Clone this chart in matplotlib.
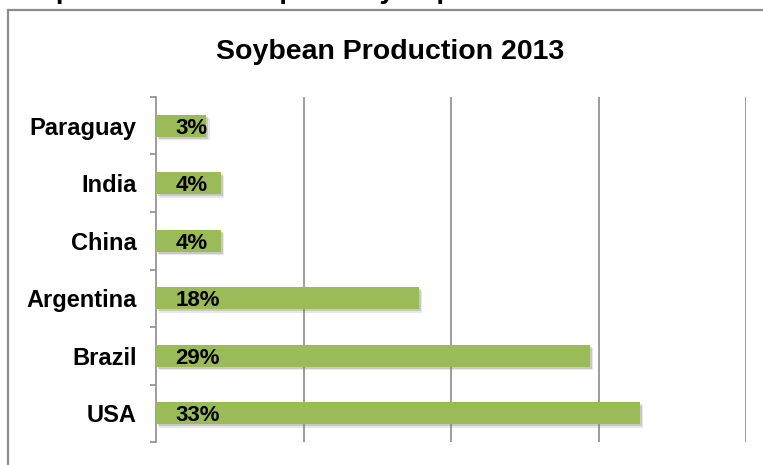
import matplotlib
matplotlib.use("Agg")
import matplotlib.pyplot as plt
import matplotlib.patheffects as pe
from matplotlib.patches import Rectangle
from matplotlib.ticker import FixedLocator

plt.rcParams['font.family'] = ['Liberation Sans', 'DejaVu Sans']

# data (bottom to top)
countries = ["USA", "Brazil", "Argentina", "China", "India", "Paraguay"]
shares = [32.8, 29.4, 17.8, 4.4, 4.4, 3.4]
share_labels = ["33%", "29%", "18%", "4%", "4%", "3%"]

bar_color = "#9BBB59"
line_gray = "#8C8C8C"

fig = plt.figure(figsize=(7.63, 4.65), dpi=100)

# cut-off heading above the chart frame (only descenders show)
fig.text(24 / 763, 1 + 2 / 465, "Top Countries Compared by Export",
         fontsize=20, fontweight="bold", ha="left", va="baseline")

# chart frame (only top and left edges visible)
fig.add_artist(Rectangle((8 / 763, -0.1), 1.2, 1 - 10 / 465 + 0.1,
                         transform=fig.transFigure, fill=False,
                         edgecolor=line_gray, linewidth=1.6))

fig.text(390 / 763, 1 - 59 / 465, "Soybean Production 2013",
         fontsize=20.5, fontweight="bold", ha="center", va="baseline")

ax = fig.add_axes([156 / 763, 1 - 442 / 465, (746 - 156) / 763, (442 - 97) / 465])

y = list(range(len(countries)))
bars = ax.barh(y, shares, height=0.38, color=bar_color, zorder=3)
for b in bars:
    b.set_path_effects([
        pe.SimplePatchShadow(offset=(2.5, -2.5), shadow_rgbFace="#808080", alpha=0.18),
        pe.SimplePatchShadow(offset=(1.5, -1.5), shadow_rgbFace="#808080", alpha=0.3),
        pe.Normal(),
    ])

for yi, lab in zip(y, share_labels):
    ax.text(1.3, yi, lab, fontsize=16, fontweight="bold", ha="left",
            va="center_baseline", zorder=4)

ax.set_xlim(0, 40)
ax.set_ylim(-0.5, len(countries) - 0.5)
ax.set_xticks([10, 20, 30, 40])
ax.xaxis.grid(True, color=line_gray, linewidth=1.2)
ax.set_axisbelow(True)
ax.tick_params(axis="x", length=0, labelbottom=False)

ax.set_yticks(y)
ax.set_yticklabels(countries, fontsize=17, fontweight="bold")
ax.tick_params(axis="y", which="major", length=0, pad=14)
ax.yaxis.set_minor_locator(FixedLocator([i - 0.5 for i in range(len(countries) + 1)]))
ax.tick_params(axis="y", which="minor", length=4, width=1.2, color=line_gray, direction="out")

for s in ["top", "right", "bottom"]:
    ax.spines[s].set_visible(False)
ax.spines["left"].set_color(line_gray)
ax.spines["left"].set_linewidth(1.2)

fig.savefig("out.png", dpi=100)
